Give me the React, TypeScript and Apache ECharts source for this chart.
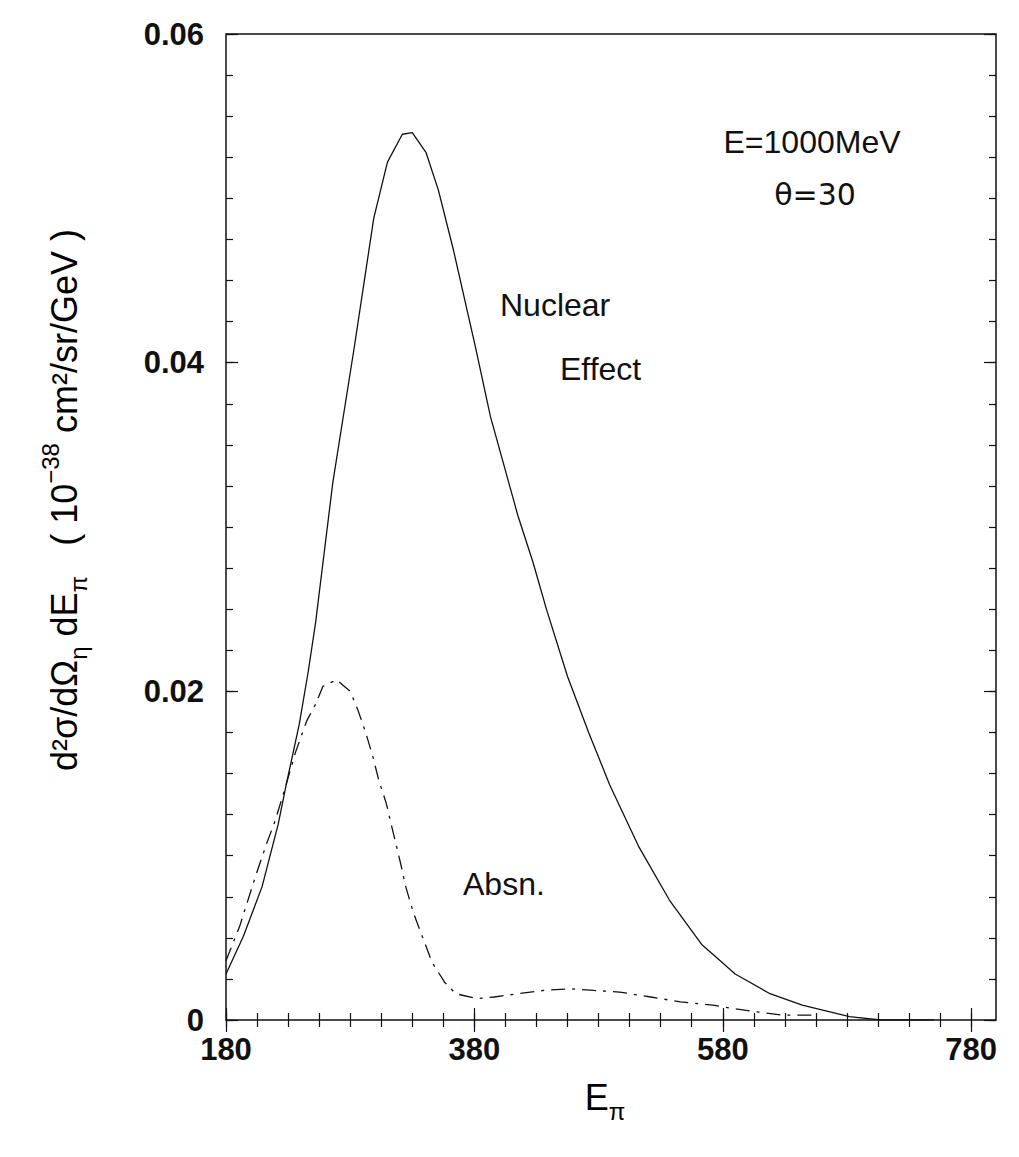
import React, { useEffect, useRef } from "react";
import * as echarts from "echarts";

// Pion energy E_pi (MeV) and cross section for "Nuclear Effect" (solid)
const nuclearE = [180, 194, 209, 222, 229, 239, 246, 252, 266, 283, 291, 299, 310, 322, 330, 341, 351, 363, 381, 393, 404, 415, 427, 438, 455, 472, 489, 512, 537, 563, 572, 590, 618, 644, 682, 707, 750];
const nuclearY = [0.0028, 0.0051, 0.0081, 0.0119, 0.0145, 0.018, 0.0211, 0.0241, 0.0327, 0.0408, 0.0448, 0.0488, 0.0522, 0.0539, 0.054, 0.0528, 0.0505, 0.0469, 0.0409, 0.0367, 0.0337, 0.0307, 0.0279, 0.025, 0.0209, 0.0175, 0.0143, 0.0106, 0.0073, 0.0046, 0.004, 0.0028, 0.0016, 0.0009, 0.0002, 0.0, 0.0];

// "Absn." (dash-dot)
const absnE = [180, 191, 204, 213, 219, 226, 236, 245, 252, 258, 269, 280, 286, 292, 298, 303, 309, 314, 321, 324, 331, 338, 346, 356, 365, 382, 396, 415, 436, 457, 476, 497, 522, 546, 572, 588, 607, 628, 654];
const absnY = [0.0036, 0.0057, 0.0088, 0.0108, 0.012, 0.0137, 0.0163, 0.0182, 0.0192, 0.0203, 0.0207, 0.02, 0.0189, 0.0176, 0.0161, 0.0146, 0.0132, 0.0116, 0.0094, 0.0083, 0.0065, 0.0051, 0.0035, 0.0023, 0.0016, 0.0013, 0.0014, 0.0016, 0.0018, 0.0019, 0.0018, 0.0017, 0.0014, 0.0011, 0.0009, 0.0007, 0.0005, 0.0003, 0.0003];

const xMajorTicks = [180, 380, 580, 780];
const yMajorTicks = [0, 0.02, 0.04, 0.06];
const xMin = 180;
const xMax = 800;
const yMin = 0;
const yMax = 0.06;

const xMinorTicks: number[] = [];
for (let k = 0; k <= 24; k++) xMinorTicks.push(180 + 25 * k);
const yMinorTicks: number[] = [];
for (let k = 0; k <= 24; k++) yMinorTicks.push(Math.round(k * 25) / 10000);

const FONT = "'Liberation Sans', Arial, sans-serif";
const INK = "#111";

export default function App() {
  const ref = useRef<HTMLDivElement>(null);

  useEffect(() => {
    if (!ref.current) return;
    const chart = echarts.init(ref.current, undefined, { renderer: "svg" });

    const tickLine = { color: INK, width: 1.2 };
    const mkX = (pos: "bottom" | "top", ticks: number[], len: number, labels: boolean) => ({
      type: "value",
      min: xMin,
      max: xMax,
      position: pos,
      gridIndex: 0,
      axisLine: { show: false },
      splitLine: { show: false },
      axisTick: { show: true, inside: true, length: len, customValues: ticks, lineStyle: tickLine },
      axisLabel: labels
        ? {
            show: true,
            customValues: xMajorTicks,
            margin: 14,
            color: INK,
            fontSize: 31,
            fontWeight: "bold",
            fontFamily: FONT,
          }
        : { show: false },
    });
    const mkY = (pos: "left" | "right", ticks: number[], len: number, labels: boolean) => ({
      type: "value",
      min: yMin,
      max: yMax,
      position: pos,
      gridIndex: 0,
      axisLine: { show: false },
      splitLine: { show: false },
      axisTick: { show: true, inside: true, length: len, customValues: ticks, lineStyle: tickLine },
      axisLabel: labels
        ? {
            show: true,
            customValues: yMajorTicks,
            margin: 22,
            color: INK,
            fontSize: 31,
            fontWeight: "bold",
            fontFamily: FONT,
            formatter: (v: number) => (v === 0 ? "0" : v.toFixed(2)),
          }
        : { show: false },
    });

    const rich = {
      a: { fontSize: 36, fontFamily: FONT, color: INK, lineHeight: 52, verticalAlign: "middle" },
      s: { fontSize: 24, fontFamily: FONT, color: INK, lineHeight: 52, verticalAlign: "bottom" },
      p: { fontSize: 24, fontFamily: FONT, color: INK, lineHeight: 52, verticalAlign: "top" },
    };

    chart.setOption({
      animation: false,
      backgroundColor: "#fff",
      textStyle: { fontFamily: FONT },
      grid: {
        left: 226,
        top: 34,
        width: 770,
        height: 986,
        show: true,
        borderColor: INK,
        borderWidth: 1.5,
        backgroundColor: "transparent",
        containLabel: false,
      },
      xAxis: [
        mkX("bottom", xMajorTicks, 12, true),
        mkX("bottom", xMinorTicks, 7, false),
        mkX("top", xMajorTicks, 12, false),
        mkX("top", xMinorTicks, 7, false),
      ],
      yAxis: [
        mkY("left", yMajorTicks, 12, true),
        mkY("left", yMinorTicks, 7, false),
        mkY("right", yMajorTicks, 12, false),
        mkY("right", yMinorTicks, 7, false),
      ],
      series: [
        {
          name: "Nuclear Effect",
          type: "line",
          xAxisIndex: 0,
          yAxisIndex: 0,
          showSymbol: false,
          symbol: "none",
          smooth: false,
          lineStyle: { color: INK, width: 1.3, type: "solid" },
          data: nuclearE.map((e, i) => [e, nuclearY[i]]),
        },
        {
          name: "Absn.",
          type: "line",
          xAxisIndex: 0,
          yAxisIndex: 0,
          showSymbol: false,
          symbol: "none",
          smooth: false,
          lineStyle: { color: INK, width: 1.3, type: [14, 7, 3, 7] },
          data: absnE.map((e, i) => [e, absnY[i]]),
        },
      ],
      graphic: [
        {
          type: "text",
          x: 812,
          y: 142,
          style: { text: "E=1000MeV", font: `32px ${FONT}`, fill: INK, textAlign: "center", textVerticalAlign: "middle", align: "center", verticalAlign: "middle" },
        },
        {
          type: "text",
          x: 815,
          y: 194,
          style: { text: "θ=30", font: `30px 'DejaVu Sans', sans-serif`, fill: INK, textAlign: "center", textVerticalAlign: "middle", align: "center", verticalAlign: "middle" },
        },
        {
          type: "text",
          x: 500,
          y: 305,
          style: { text: "Nuclear", font: `32px ${FONT}`, fill: INK, textAlign: "left", textVerticalAlign: "middle", align: "left", verticalAlign: "middle" },
        },
        {
          type: "text",
          x: 560,
          y: 369,
          style: { text: "Effect", font: `32px ${FONT}`, fill: INK, textAlign: "left", textVerticalAlign: "middle", align: "left", verticalAlign: "middle" },
        },
        {
          type: "text",
          x: 463,
          y: 884,
          style: { text: "Absn.", font: `32px ${FONT}`, fill: INK, textAlign: "left", textVerticalAlign: "middle", align: "left", verticalAlign: "middle" },
        },
        {
          type: "text",
          x: 64,
          y: 500,
          rotation: Math.PI / 2,
          style: {
            text: "{a|d²σ/dΩ}{s|η}{a| dE}{s|π}{a|   ( 10}{p|−38}{a| cm²/sr/GeV )}",
            rich,
            textAlign: "center",
            textVerticalAlign: "middle",
            align: "center",
            verticalAlign: "middle",
          },
        },
        {
          type: "text",
          x: 605,
          y: 1097,
          style: {
            text: "{a|E}{s|π}",
            rich,
            textAlign: "center",
            textVerticalAlign: "middle",
            align: "center",
            verticalAlign: "middle",
          },
        },
      ],
    });

    return () => {
      chart.dispose();
    };
  }, []);

  return (
    <div
      ref={ref}
      style={{ position: "absolute", left: 0, top: 0, width: 1019, height: 1157, background: "#fff" }}
    />
  );
}
